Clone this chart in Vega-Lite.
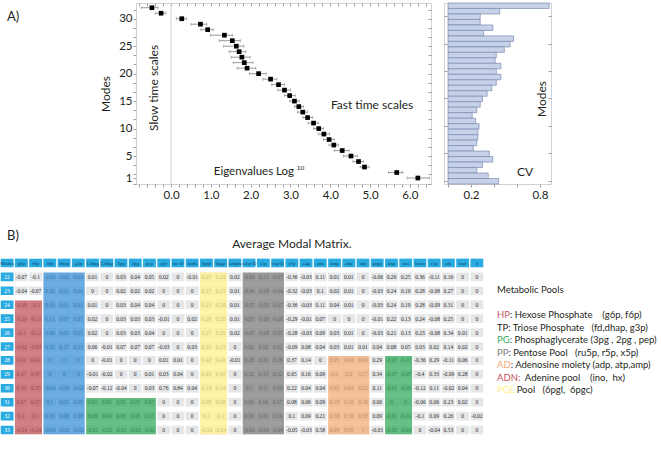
{
"$schema": "https://vega.github.io/schema/vega-lite/v6.json",
"background": "white",
"padding": {"left": 0, "top": 2, "right": 0, "bottom": 0},
"config": {
  "font": "Lato",
  "view": {"stroke": null},
  "axis": {"labelFont": "Lato", "titleFont": "Lato", "labelColor": "#231f20", "tickColor": "#a0a0a0", "domain": false, "grid": false, "minExtent": 0, "labelFontSize": 11.5},
  "axisY": {"minExtent": 0},
  "text": {"font": "Lato"}
},
"datasets": {
  "eig": [
    {"mode": 32, "val": -0.48, "lo": -0.75, "hi": -0.33},
    {"mode": 31, "val": -0.25, "lo": -0.40, "hi": -0.13},
    {"mode": 30, "val": 0.27, "lo": 0.13, "hi": 0.39},
    {"mode": 29, "val": 0.74, "lo": 0.50, "hi": 0.90},
    {"mode": 28, "val": 0.92, "lo": 0.75, "hi": 1.06},
    {"mode": 27, "val": 1.34, "lo": 0.99, "hi": 1.54},
    {"mode": 26, "val": 1.54, "lo": 1.21, "hi": 1.74},
    {"mode": 25, "val": 1.64, "lo": 1.32, "hi": 1.83},
    {"mode": 24, "val": 1.71, "lo": 1.46, "hi": 1.88},
    {"mode": 23, "val": 1.78, "lo": 1.51, "hi": 1.99},
    {"mode": 22, "val": 1.84, "lo": 1.56, "hi": 2.06},
    {"mode": 21, "val": 1.91, "lo": 1.66, "hi": 2.13},
    {"mode": 20, "val": 2.20, "lo": 1.97, "hi": 2.39},
    {"mode": 19, "val": 2.50, "lo": 2.31, "hi": 2.66},
    {"mode": 18, "val": 2.70, "lo": 2.53, "hi": 2.85},
    {"mode": 17, "val": 2.85, "lo": 2.68, "hi": 3.00},
    {"mode": 16, "val": 2.98, "lo": 2.85, "hi": 3.12},
    {"mode": 15, "val": 3.10, "lo": 2.98, "hi": 3.22},
    {"mode": 14, "val": 3.21, "lo": 3.10, "hi": 3.33},
    {"mode": 13, "val": 3.31, "lo": 3.18, "hi": 3.43},
    {"mode": 12, "val": 3.43, "lo": 3.31, "hi": 3.56},
    {"mode": 11, "val": 3.58, "lo": 3.44, "hi": 3.70},
    {"mode": 10, "val": 3.71, "lo": 3.58, "hi": 3.83},
    {"mode": 9, "val": 3.84, "lo": 3.70, "hi": 3.98},
    {"mode": 8, "val": 3.97, "lo": 3.83, "hi": 4.10},
    {"mode": 7, "val": 4.09, "lo": 3.97, "hi": 4.21},
    {"mode": 6, "val": 4.30, "lo": 4.10, "hi": 4.47},
    {"mode": 5, "val": 4.52, "lo": 4.33, "hi": 4.68},
    {"mode": 4, "val": 4.71, "lo": 4.57, "hi": 4.83},
    {"mode": 3, "val": 4.86, "lo": 4.75, "hi": 4.98},
    {"mode": 2, "val": 5.67, "lo": 5.46, "hi": 5.82},
    {"mode": 1, "val": 6.20, "lo": 5.93, "hi": 6.49}
  ],
  "cv": [
    {"m": 33, "cv": 0.88}, {"m": 32, "cv": 0.45}, {"m": 31, "cv": 0.28}, {"m": 30, "cv": 0.28},
    {"m": 29, "cv": 0.39}, {"m": 28, "cv": 0.31}, {"m": 27, "cv": 0.57}, {"m": 26, "cv": 0.54},
    {"m": 25, "cv": 0.49}, {"m": 24, "cv": 0.42}, {"m": 23, "cv": 0.41}, {"m": 22, "cv": 0.46},
    {"m": 21, "cv": 0.42}, {"m": 20, "cv": 0.46}, {"m": 19, "cv": 0.42}, {"m": 18, "cv": 0.38},
    {"m": 17, "cv": 0.34}, {"m": 16, "cv": 0.30}, {"m": 15, "cv": 0.28}, {"m": 14, "cv": 0.25},
    {"m": 13, "cv": 0.21}, {"m": 12, "cv": 0.24}, {"m": 11, "cv": 0.27}, {"m": 10, "cv": 0.26},
    {"m": 9, "cv": 0.26}, {"m": 8, "cv": 0.25}, {"m": 7, "cv": 0.22}, {"m": 6, "cv": 0.36},
    {"m": 5, "cv": 0.39}, {"m": 4, "cv": 0.30}, {"m": 3, "cv": 0.25}, {"m": 2, "cv": 0.35},
    {"m": 1, "cv": 0.44}
  ],
  "m": [
    {"mode":"22","g6p":-0.07,"f6p":-0.1,"fdp":-0.01,"dhap":-0.01,"g3p":-0.01,"13dpg":0.01,"23dpg":0,"3pg":0.03,"2pg":0.04,"pep":0.05,"pyr":0.02,"lac-D":0,"nadh":-0.01,"6pgl":0.25,"6pgc":0.22,"nadph":0.02,"ru5p-D":-0.09,"r5p":-0.11,"x5p-D":-0.07,"s7p":-0.36,"e4p":-0.03,"adn":0.11,"amp":0.01,"adp":0.01,"atp":0,"prpp":-0.06,"imp":0.29,"ino":0.25,"hxan":0.36,"r1p":-0.11,"ade":0.16,"nad":0,"h":0},
    {"mode":"23","g6p":-0.04,"f6p":-0.07,"fdp":0.02,"dhap":0.01,"g3p":0.01,"13dpg":0,"23dpg":0,"3pg":0.02,"2pg":0.02,"pep":0.02,"pyr":0,"lac-D":0,"nadh":0,"6pgl":0.17,"6pgc":0.15,"nadph":0.01,"ru5p-D":-0.06,"r5p":-0.08,"x5p-D":-0.04,"s7p":-0.32,"e4p":-0.03,"adn":0.1,"amp":0.02,"adp":0.01,"atp":0,"prpp":-0.03,"imp":0.24,"ino":0.19,"hxan":0.28,"r1p":-0.08,"ade":0.27,"nad":0,"h":0},
    {"mode":"24","g6p":-0.08,"f6p":-0.1,"fdp":0.03,"dhap":0.01,"g3p":0.01,"13dpg":0.01,"23dpg":0,"3pg":0.03,"2pg":0.04,"pep":0.04,"pyr":0,"lac-D":0,"nadh":0,"6pgl":0.21,"6pgc":0.18,"nadph":0.01,"ru5p-D":-0.07,"r5p":-0.09,"x5p-D":-0.07,"s7p":-0.36,"e4p":-0.03,"adn":0.11,"amp":0.04,"adp":0.01,"atp":0,"prpp":-0.03,"imp":0.24,"ino":0.19,"hxan":0.28,"r1p":-0.09,"ade":0.31,"nad":0,"h":0},
    {"mode":"25","g6p":-0.09,"f6p":-0.11,"fdp":0.13,"dhap":0.07,"g3p":0.05,"13dpg":0.02,"23dpg":0,"3pg":0.03,"2pg":0.03,"pep":0.03,"pyr":-0.01,"lac-D":0,"nadh":0.02,"6pgl":0.28,"6pgc":0.25,"nadph":0.01,"ru5p-D":-0.07,"r5p":-0.08,"x5p-D":-0.05,"s7p":-0.29,"e4p":-0.01,"adn":0.07,"amp":0,"adp":0,"atp":0,"prpp":-0.01,"imp":0.22,"ino":0.13,"hxan":0.24,"r1p":-0.08,"ade":0.25,"nad":0,"h":0},
    {"mode":"26","g6p":-0.1,"f6p":-0.12,"fdp":0.06,"dhap":0.05,"g3p":0.05,"13dpg":0.02,"23dpg":0,"3pg":0.03,"2pg":0.03,"pep":0.04,"pyr":0,"lac-D":0,"nadh":0,"6pgl":0.27,"6pgc":0.25,"nadph":0.02,"ru5p-D":-0.07,"r5p":-0.08,"x5p-D":-0.07,"s7p":-0.28,"e4p":-0.03,"adn":0.09,"amp":0.03,"adp":0.01,"atp":0,"prpp":-0.03,"imp":0.21,"ino":0.13,"hxan":0.23,"r1p":-0.08,"ade":0.34,"nad":0.01,"h":0},
    {"mode":"27","g6p":-0.02,"f6p":-0.03,"fdp":0.21,"dhap":0.17,"g3p":0.13,"13dpg":0.06,"23dpg":-0.01,"3pg":0.07,"2pg":0.07,"pep":0.07,"pyr":-0.03,"lac-D":0,"nadh":0.03,"6pgl":0.16,"6pgc":0.15,"nadph":0,"ru5p-D":0.02,"r5p":0.02,"x5p-D":0.02,"s7p":-0.09,"e4p":0.08,"adn":0.04,"amp":0.03,"adp":0.01,"atp":0.01,"prpp":0.04,"imp":0.08,"ino":0.05,"hxan":0.03,"r1p":0.02,"ade":0.14,"nad":0.02,"h":0},
    {"mode":"28","g6p":0.42,"f6p":0.42,"fdp":0,"dhap":0,"g3p":0,"13dpg":0,"23dpg":-0.01,"3pg":0,"2pg":0,"pep":0,"pyr":0.01,"lac-D":0.01,"nadh":0,"6pgl":0.42,"6pgc":0.41,"nadph":-0.01,"ru5p-D":0.28,"r5p":0.29,"x5p-D":0.28,"s7p":0.37,"e4p":0.14,"adn":0,"amp":0.05,"adp":0.04,"atp":0.04,"prpp":0.29,"imp":-0.07,"ino":-0.07,"hxan":-0.36,"r1p":0.29,"ade":-0.11,"nad":0.06,"h":0},
    {"mode":"29","g6p":0.47,"f6p":0.47,"fdp":0,"dhap":0,"g3p":0,"13dpg":-0.01,"23dpg":-0.02,"3pg":0,"2pg":0,"pep":0.01,"pyr":0.03,"lac-D":0.04,"nadh":0,"6pgl":0.45,"6pgc":0.45,"nadph":0,"ru5p-D":0.32,"r5p":0.33,"x5p-D":0.32,"s7p":0.65,"e4p":0.16,"adn":0.09,"amp":0.2,"adp":0.2,"atp":0.17,"prpp":0.34,"imp":-0.07,"ino":-0.07,"hxan":-0.4,"r1p":0.33,"ade":-0.09,"nad":0.28,"h":0},
    {"mode":"30","g6p":0.35,"f6p":0.35,"fdp":-0.04,"dhap":-0.02,"g3p":-0.02,"13dpg":-0.07,"23dpg":-0.12,"3pg":-0.04,"2pg":0,"pep":0.03,"pyr":0.76,"lac-D":0.84,"nadh":0.04,"6pgl":0.14,"6pgc":0.14,"nadph":0,"ru5p-D":0.1,"r5p":0.11,"x5p-D":0.09,"s7p":0.22,"e4p":0.04,"adn":0.04,"amp":0.05,"adp":0.04,"atp":0.02,"prpp":0.11,"imp":-0.01,"ino":-0.01,"hxan":-0.12,"r1p":0.11,"ade":-0.02,"nad":0.04,"h":0},
    {"mode":"31","g6p":0.07,"f6p":0.07,"fdp":0.1,"dhap":0.05,"g3p":0.05,"13dpg":0.05,"23dpg":0.06,"3pg":0.05,"2pg":0.05,"pep":0.05,"pyr":0,"lac-D":0,"nadh":0,"6pgl":0.08,"6pgc":0.08,"nadph":0,"ru5p-D":0.06,"r5p":0.06,"x5p-D":0.07,"s7p":0.08,"e4p":0.06,"adn":0.09,"amp":0.18,"adp":0.18,"atp":0.18,"prpp":0.06,"imp":0,"ino":0,"hxan":-0.06,"r1p":0.06,"ade":0.23,"nad":0.02,"h":0},
    {"mode":"32","g6p":0.1,"f6p":0.1,"fdp":0.16,"dhap":0.08,"g3p":0.08,"13dpg":0.08,"23dpg":0.09,"3pg":0.08,"2pg":0.08,"pep":0.07,"pyr":0,"lac-D":0,"nadh":0,"6pgl":0.1,"6pgc":0.1,"nadph":0,"ru5p-D":0.09,"r5p":0.09,"x5p-D":0.09,"s7p":0.1,"e4p":0.09,"adn":0.21,"amp":0.58,"adp":0.58,"atp":0.58,"prpp":0.09,"imp":-0.01,"ino":-0.01,"hxan":-0.1,"r1p":0.09,"ade":0.26,"nad":0,"h":-0.02},
    {"mode":"33","g6p":-0.24,"f6p":-0.24,"fdp":-0.04,"dhap":-0.02,"g3p":-0.02,"13dpg":-0.02,"23dpg":-0.02,"3pg":-0.02,"2pg":-0.02,"pep":-0.02,"pyr":0,"lac-D":0,"nadh":0,"6pgl":-0.24,"6pgc":-0.24,"nadph":0,"ru5p-D":-0.04,"r5p":-0.04,"x5p-D":-0.04,"s7p":-0.05,"e4p":-0.03,"adn":0.58,"amp":0.99,"adp":0.99,"atp":1,"prpp":-0.03,"imp":-0.03,"ino":-0.03,"hxan":0,"r1p":-0.04,"ade":0.53,"nad":0,"h":0}
  ],
  "grp": [
    {"g": "HP", "c1": "g6p", "c2": "f6p", "r1": "24", "r2": "33"},
    {"g": "TP", "c1": "fdp", "c2": "g3p", "r1": "22", "r2": "33"},
    {"g": "PG", "c1": "13dpg", "c2": "pep", "r1": "31", "r2": "33"},
    {"g": "PGL", "c1": "6pgl", "c2": "6pgc", "r1": "22", "r2": "33"},
    {"g": "PP", "c1": "ru5p-D", "c2": "x5p-D", "r1": "22", "r2": "33"},
    {"g": "AD", "c1": "amp", "c2": "atp", "r1": "28", "r2": "33"},
    {"g": "ADN", "c1": "imp", "c2": "ino", "r1": "28", "r2": "33"}
  ],
  "cols": [
    {"c":"Modes"},{"c":"g6p"},{"c":"f6p"},{"c":"fdp"},{"c":"dhap"},{"c":"g3p"},{"c":"13dpg"},{"c":"23dpg"},{"c":"3pg"},{"c":"2pg"},{"c":"pep"},{"c":"pyr"},{"c":"lac-D"},{"c":"nadh"},{"c":"6pgl"},{"c":"6pgc"},{"c":"nadph"},{"c":"ru5p-D"},{"c":"r5p"},{"c":"x5p-D"},{"c":"s7p"},{"c":"e4p"},{"c":"adn"},{"c":"amp"},{"c":"adp"},{"c":"atp"},{"c":"prpp"},{"c":"imp"},{"c":"ino"},{"c":"hxan"},{"c":"r1p"},{"c":"ade"},{"c":"nad"},{"c":"h"}
  ],
  "leg": [
    {"line": 0, "full": "Metabolic Pools", "pre": ""},
    {"line": 2, "full": "HP: Hexose Phosphate \u00a0\u00a0\u00a0(g6p, f6p)", "pre": "HP"},
    {"line": 3, "full": "TP: Triose Phosphate \u00a0\u00a0(fd,dhap, g3p)", "pre": ""},
    {"line": 4, "full": "PG: Phosphaglycerate (3pg , 2pg , pep)", "pre": "PG"},
    {"line": 5, "full": "PP: Pentose Pool \u00a0\u00a0(ru5p, r5p, x5p)", "pre": "PP"},
    {"line": 6, "full": "AD: Adenosine moiety (adp, atp,amp)", "pre": "AD"},
    {"line": 7, "full": "ADN: \u00a0Adenine pool \u00a0\u00a0\u00a0(ino, \u00a0hx)", "pre": "ADN:"},
    {"line": 8, "full": "PGL Pool \u00a0\u00a0(6pgl, \u00a06pgc)", "pre": "PGL"}
  ]
},
"spacing": 28,
"vconcat": [
  {
    "spacing": 11,
    "hconcat": [
      {
        "width": 74, "height": 181,
        "data": {"values": [{"t": "A)"}]},
        "mark": {"type": "text", "fontSize": 13, "align": "left", "color": "#231f20"},
        "encoding": {
          "x": {"datum": 0.095, "type": "quantitative", "scale": {"domain": [0, 1]}, "axis": null},
          "y": {"datum": 0.925, "type": "quantitative", "scale": {"domain": [0, 1]}, "axis": null},
          "text": {"field": "t"}
        }
      },
      {
        "width": 295, "height": 181,
        "view": {"stroke": "#d2d2d2"},
        "layer": [
          {"data": {"values": [{"z": 0}]}, "mark": {"type": "rule", "color": "#cfcfcf", "strokeWidth": 1},
           "encoding": {"x": {"field": "z", "type": "quantitative", "scale": {"domain": [-0.88, 6.53], "nice": false, "zero": false}, "axis": null}}},
          {"data": {"name": "eig"}, "mark": {"type": "rule", "color": "#8c8c8c", "strokeWidth": 0.9},
           "encoding": {
             "x": {"field": "lo", "type": "quantitative", "axis": {"orient": "top", "values": [-0.8,-0.6,-0.4,-0.2,0,0.2,0.4,0.6,0.8,1,1.2,1.4,1.6,1.8,2,2.2,2.4,2.6,2.8,3,3.2,3.4,3.6,3.8,4,4.2,4.4,4.6,4.8,5,5.2,5.4,5.6,5.8,6,6.2,6.4], "labels": false, "tickSize": -3, "title": null}},
             "x2": {"field": "hi"},
             "y": {"field": "mode", "type": "quantitative", "scale": {"domain": [-0.09, 32.86], "nice": false, "zero": false}, "axis": {"orient": "right", "values": [0,1.667,3.333,5,6.667,8.333,10,11.667,13.333,15,16.667,18.333,20,21.667,23.333,25,26.667,28.333,30,31.667], "labels": false, "tickSize": -3, "title": null, "minExtent": 0}}
           }},
          {"data": {"name": "eig"}, "mark": {"type": "tick", "orient": "vertical", "color": "#8c8c8c", "size": 3, "thickness": 0.9},
           "encoding": {
             "x": {"field": "lo", "type": "quantitative", "axis": null},
             "y": {"field": "mode", "type": "quantitative", "axis": {"orient": "left", "labels": false, "ticks": false, "domain": false, "grid": false, "title": null, "minExtent": 50, "maxExtent": 50}}
           }},
          {"data": {"name": "eig"}, "mark": {"type": "tick", "orient": "vertical", "color": "#8c8c8c", "size": 3, "thickness": 0.9},
           "encoding": {
             "x": {"field": "hi", "type": "quantitative", "axis": null},
             "y": {"field": "mode", "type": "quantitative", "axis": null}
           }},
          {"data": {"name": "eig"}, "mark": {"type": "point", "shape": "square", "filled": true, "color": "#000000", "size": 22, "opacity": 1},
           "encoding": {
             "x": {"field": "val", "type": "quantitative", "axis": {"orient": "bottom", "values": [-0.8,-0.6,-0.4,-0.2,0,0.2,0.4,0.6,0.8,1,1.2,1.4,1.6,1.8,2,2.2,2.4,2.6,2.8,3,3.2,3.4,3.6,3.8,4,4.2,4.4,4.6,4.8,5,5.2,5.4,5.6,5.8,6,6.2,6.4], "labelExpr": "datum.value == round(datum.value) ? datum.label : ''", "labelOverlap": false, "labelFlush": false, "tickSize": 3, "labelPadding": 2, "title": null}},
             "y": {"field": "mode", "type": "quantitative", "axis": {"orient": "left", "values": [0,1,1.667,3.333,5,6.667,8.333,10,11.667,13.333,15,16.667,18.333,20,21.667,23.333,25,26.667,28.333,30,31.667], "labelExpr": "indexof([1,5,10,15,20,25,30], datum.value) >= 0 ? datum.label : ''", "labelOverlap": false, "labelFlush": false, "tickSize": 3, "labelPadding": 1, "title": "Modes", "titleFontSize": 12, "titleFontWeight": "normal", "titleColor": "#231f20", "titlePadding": 6, "minExtent": 0}}
           }},
          {"data": {"values": [{"t": "Slow time scales"}]}, "mark": {"type": "text", "angle": 270, "fontSize": 12, "color": "#231f20"},
           "encoding": {"x": {"datum": -0.43, "type": "quantitative", "axis": null}, "y": {"datum": 17.4, "type": "quantitative", "axis": null}, "text": {"field": "t"}}},
          {"data": {"values": [{"t": "Fast time scales"}]}, "mark": {"type": "text", "fontSize": 12, "color": "#231f20"},
           "encoding": {"x": {"datum": 5.05, "type": "quantitative", "axis": null}, "y": {"datum": 14.3, "type": "quantitative", "axis": null}, "text": {"field": "t"}}},
          {"data": {"values": [{"t": "Eigenvalues Log"}]}, "mark": {"type": "text", "fontSize": 11.5, "align": "right", "color": "#231f20"},
           "encoding": {"x": {"datum": 3.09, "type": "quantitative", "axis": null}, "y": {"datum": 2.1, "type": "quantitative", "axis": null}, "text": {"field": "t"}}},
          {"data": {"values": [{"t": "10"}]}, "mark": {"type": "text", "fontSize": 6.5, "align": "left", "color": "#231f20"},
           "encoding": {"x": {"datum": 3.16, "type": "quantitative", "axis": null}, "y": {"datum": 2.8, "type": "quantitative", "axis": null}, "text": {"field": "t"}}}
        ],
        "resolve": {"axis": {"x": "independent", "y": "independent"}}
      },
      {
        "width": 107, "height": 181,
        "view": {"stroke": "#d2d2d2"},
        "layer": [
          {"data": {"name": "cv"}, "mark": {"type": "bar", "fill": "#c7d1e7", "stroke": "#7b8bb2", "strokeWidth": 0.7},
           "encoding": {
             "x": {"field": "cv", "type": "quantitative", "scale": {"domain": [-0.035, 0.896], "nice": false, "zero": false}, "axis": {"orient": "bottom", "values": [0, 0.2, 0.4, 0.6, 0.8], "labelExpr": "datum.value == 0.2 || datum.value == 0.8 ? datum.label : ''", "labelOverlap": false, "labelFlush": false, "tickSize": 3, "labelPadding": 2, "title": null}},
             "y": {"field": "m", "type": "ordinal", "sort": null, "scale": {"domain": [33,32,31,30,29,28,27,26,25,24,23,22,21,20,19,18,17,16,15,14,13,12,11,10,9,8,7,6,5,4,3,2,1], "paddingInner": 0, "paddingOuter": 0}, "axis": {"orient": "left", "values": [31,26,21,16,11,6,1], "labels": false, "tickSize": -3, "title": null, "minExtent": 0}}
           }},
          {"data": {"values": [{"t": "CV"}]}, "mark": {"type": "text", "fontSize": 12, "dy": 1.5, "color": "#231f20"},
           "encoding": {
             "x": {"datum": 0.67, "type": "quantitative", "axis": {"orient": "top", "values": [0, 0.2, 0.4, 0.6, 0.8], "labels": false, "tickSize": -3, "title": null}},
             "y": {"datum": 3, "type": "ordinal", "axis": {"orient": "right", "values": [31,26,21,16,11,6,1], "labels": false, "tickSize": -3, "title": null, "minExtent": 0}},
             "text": {"field": "t"}
           }},
          {"data": {"values": [{"t": "Modes"}]}, "mark": {"type": "text", "fontSize": 12, "angle": 270, "color": "#231f20"},
           "encoding": {
             "x": {"datum": 0.817, "type": "quantitative", "axis": null},
             "y": {"datum": 16, "type": "ordinal", "axis": null},
             "text": {"field": "t"}
           }}
        ],
        "resolve": {"axis": {"x": "independent", "y": "independent"}}
      }
    ]
  },
  {
    "spacing": 13,
    "hconcat": [
      {
        "width": 484, "height": 181,
        "layer": [
          {"data": {"name": "m"},
           "transform": [{"fold": ["g6p","f6p","fdp","dhap","g3p","13dpg","23dpg","3pg","2pg","pep","pyr","lac-D","nadh","6pgl","6pgc","nadph","ru5p-D","r5p","x5p-D","s7p","e4p","adn","amp","adp","atp","prpp","imp","ino","hxan","r1p","ade","nad","h"], "as": ["key", "value"]}],
           "mark": {"type": "rect", "fill": "#e5e6e8"},
           "encoding": {
             "x": {"field": "key", "type": "nominal", "scale": {"domain": ["Modes","g6p","f6p","fdp","dhap","g3p","13dpg","23dpg","3pg","2pg","pep","pyr","lac-D","nadh","6pgl","6pgc","nadph","ru5p-D","r5p","x5p-D","s7p","e4p","adn","amp","adp","atp","prpp","imp","ino","hxan","r1p","ade","nad","h"], "paddingInner": 0.1, "paddingOuter": 0.05}, "axis": null},
             "y": {"field": "mode", "type": "nominal", "scale": {"domain": ["Modes","22","23","24","25","26","27","28","29","30","31","32","33"], "paddingInner": 0.38, "paddingOuter": 0.19}, "axis": null}
           }},
          {"data": {"name": "m"},
           "transform": [{"fold": ["g6p","f6p","fdp","dhap","g3p","13dpg","23dpg","3pg","2pg","pep","pyr","lac-D","nadh","6pgl","6pgc","nadph","ru5p-D","r5p","x5p-D","s7p","e4p","adn","amp","adp","atp","prpp","imp","ino","hxan","r1p","ade","nad","h"], "as": ["key", "value"]}],
           "mark": {"type": "text", "font": "Liberation Serif", "fontSize": 5.5, "color": "#2a2a2a"},
           "encoding": {
             "x": {"field": "key", "type": "nominal", "axis": null},
             "y": {"field": "mode", "type": "nominal", "axis": null},
             "text": {"field": "value", "type": "nominal"}
           }},
          {"data": {"name": "grp"}, "mark": {"type": "rect", "opacity": 0.75},
           "encoding": {
             "x": {"field": "c1", "type": "nominal", "bandPosition": 0, "axis": null},
             "x2": {"field": "c2", "bandPosition": 1},
             "y": {"field": "r1", "type": "nominal", "bandPosition": 0, "axis": null},
             "y2": {"field": "r2", "bandPosition": 1},
             "color": {"field": "g", "type": "nominal", "scale": {"domain": ["HP","TP","PG","PGL","PP","AD","ADN"], "range": ["#c4555c","#3b92d9","#34ab5c","#fff08a","#7d7d7d","#f2ad78","#34ab5c"]}, "legend": null}
           }},
          {"data": {"name": "cols"}, "mark": {"type": "rect", "fill": "#29abe2"},
           "encoding": {"x": {"field": "c", "type": "nominal", "axis": null}, "y": {"datum": "Modes", "type": "nominal", "axis": null}}},
          {"data": {"name": "cols"}, "mark": {"type": "text", "font": "Liberation Serif", "fontSize": 5, "color": "#123c6b", "clip": true},
           "encoding": {"x": {"field": "c", "type": "nominal", "axis": null}, "y": {"datum": "Modes", "type": "nominal", "axis": null}, "text": {"field": "c"}}},
          {"data": {"name": "m"}, "mark": {"type": "rect", "fill": "#29abe2"},
           "encoding": {"x": {"datum": "Modes", "type": "nominal", "axis": null}, "y": {"field": "mode", "type": "nominal", "axis": null}}},
          {"data": {"name": "m"}, "mark": {"type": "text", "font": "Liberation Serif", "fontSize": 5.5, "color": "white"},
           "encoding": {"x": {"datum": "Modes", "type": "nominal", "axis": null}, "y": {"field": "mode", "type": "nominal", "axis": null}, "text": {"field": "mode"}}},
          {"data": {"values": [{"t": "B)"}]}, "mark": {"type": "text", "align": "left", "fontSize": 13, "dy": -27, "color": "#231f20"},
           "encoding": {"x": {"datum": "Modes", "type": "nominal", "axis": null}, "y": {"datum": "Modes", "type": "nominal", "axis": null}, "text": {"field": "t"}}},
          {"data": {"values": [{"t": "Average Modal Matrix."}]}, "mark": {"type": "text", "fontSize": 12, "dy": -19, "color": "#231f20"},
           "encoding": {"x": {"datum": "s7p", "type": "nominal", "axis": null}, "y": {"datum": "Modes", "type": "nominal", "axis": null}, "text": {"field": "t"}}}
        ]
      },
      {
        "width": 160, "height": 181,
        "data": {"name": "leg"},
        "layer": [
          {"mark": {"type": "text", "align": "left", "fontSize": 9.5, "color": "#231f20"},
           "encoding": {
             "x": {"datum": 0, "type": "quantitative", "scale": {"domain": [0, 1]}, "axis": null},
             "y": {"field": "line", "type": "quantitative", "scale": {"domain": [-2.72, 11.76], "reverse": true, "nice": false, "zero": false}, "axis": null},
             "text": {"field": "full"}
           }},
          {"transform": [{"filter": "datum.pre != ''"}],
           "mark": {"type": "text", "align": "left", "fontSize": 9.5, "fill": "white", "stroke": "white", "strokeWidth": 1.5},
           "encoding": {
             "x": {"datum": 0, "type": "quantitative", "axis": null},
             "y": {"field": "line", "type": "quantitative", "axis": null},
             "text": {"field": "pre"}
           }},
          {"transform": [{"filter": "datum.pre != ''"}],
           "mark": {"type": "text", "align": "left", "fontSize": 9.5},
           "encoding": {
             "x": {"datum": 0, "type": "quantitative", "axis": null},
             "y": {"field": "line", "type": "quantitative", "axis": null},
             "text": {"field": "pre"},
             "color": {"field": "pre", "type": "nominal", "scale": {"domain": ["HP","PG","PP","AD","ADN:","PGL"], "range": ["#ec1c24","#39b54a","#808285","#39b54a","#ec1c24","#f2dc1b"]}, "legend": null}
           }}
        ]
      }
    ]
  }
]
}
